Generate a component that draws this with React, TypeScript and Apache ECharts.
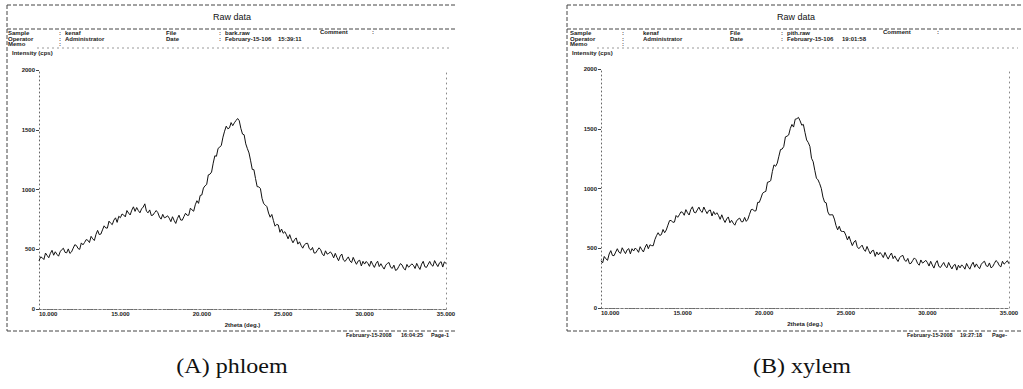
import React, { useEffect, useRef } from "react";
import * as echarts from "echarts";

// 2theta sampling: 10.0 .. 35.0 deg, step 0.1
const startAngle = 10;
const stepAngle = 0.1;

const phloem = [
  404, 436, 429, 414, 468, 448, 429, 466, 491, 450,
  479, 458, 442, 479, 497, 508, 474, 470, 503, 465,
  478, 509, 538, 531, 506, 499, 553, 537, 557, 581,
  575, 556, 608, 587, 573, 624, 658, 623, 627, 662,
  696, 678, 677, 735, 718, 706, 744, 763, 725, 776,
  764, 795, 787, 771, 824, 803, 787, 827, 855, 817,
  849, 824, 805, 838, 853, 880, 818, 805, 829, 782,
  786, 806, 824, 806, 770, 752, 792, 763, 769, 780,
  760, 731, 772, 741, 716, 757, 785, 745, 743, 773,
  801, 784, 785, 844, 829, 818, 872, 906, 884, 950,
  954, 1012, 1031, 1042, 1122, 1128, 1146, 1220, 1282, 1278,
  1344, 1354, 1370, 1438, 1488, 1530, 1508, 1516, 1560, 1534,
  1558, 1577, 1594, 1576, 1511, 1464, 1458, 1382, 1342, 1306,
  1240, 1168, 1166, 1092, 1024, 1022, 1008, 926, 882, 870,
  856, 803, 768, 791, 740, 693, 708, 703, 642, 669,
  634, 647, 621, 587, 622, 583, 554, 580, 595, 543,
  562, 532, 509, 537, 548, 550, 506, 493, 515, 468,
  470, 492, 512, 496, 461, 445, 487, 459, 466, 478,
  460, 428, 466, 432, 404, 442, 460, 410, 398, 418,
  436, 403, 388, 432, 401, 374, 401, 408, 360, 399,
  376, 398, 382, 357, 401, 372, 348, 380, 400, 355,
  379, 354, 334, 367, 382, 389, 349, 340, 367, 323,
  330, 356, 380, 369, 339, 327, 373, 350, 362, 378,
  365, 339, 382, 354, 331, 375, 399, 354, 348, 373,
  398, 369, 358, 405, 378, 355, 386, 396, 351, 394,
  382,
];

const xylem = [
  395, 378, 431, 412, 399, 452, 480, 440, 438, 468,
  496, 467, 457, 504, 478, 455, 486, 497, 453, 496,
  477, 502, 488, 466, 513, 488, 469, 507, 534, 496,
  529, 522, 521, 572, 605, 630, 607, 614, 657, 630,
  653, 693, 731, 733, 717, 719, 774, 759, 780, 805,
  800, 776, 823, 797, 778, 824, 847, 802, 796, 821,
  844, 813, 800, 845, 816, 790, 815, 820, 770, 807,
  782, 797, 774, 742, 780, 743, 716, 745, 762, 713,
  734, 710, 693, 727, 744, 752, 722, 722, 758, 725,
  743, 784, 823, 826, 811, 814, 884, 884, 920, 960,
  970, 976, 1052, 1056, 1066, 1142, 1198, 1186, 1212, 1270,
  1326, 1330, 1352, 1432, 1438, 1448, 1502, 1536, 1514, 1580,
  1584, 1595, 1566, 1530, 1536, 1468, 1406, 1385, 1352, 1253,
  1224, 1152, 1086, 1072, 1040, 1000, 928, 886, 880, 804,
  778, 780, 780, 744, 690, 654, 684, 644, 640, 640,
  610, 570, 600, 558, 522, 552, 566, 512, 496, 512,
  526, 491, 474, 515, 482, 453, 478, 483, 432, 469,
  444, 465, 447, 422, 465, 434, 409, 440, 460, 413,
  436, 410, 389, 421, 435, 440, 400, 390, 415, 371,
  374, 398, 419, 405, 373, 358, 402, 376, 385, 399,
  380, 351, 391, 360, 334, 375, 396, 348, 339, 361,
  381, 350, 337, 381, 352, 327, 356, 365, 317, 358,
  336, 361, 347, 325, 373, 346, 325, 360, 383, 341,
  369, 346, 329, 365, 382, 391, 354, 347, 377, 336,
  346, 372, 397, 385, 356, 344, 391, 367, 380, 396,
  370,
];

const xTicks = [10, 15, 20, 25, 30, 35];
const yTicks = [0, 500, 1000, 1500, 2000];

const panels = [
  {
    sample: "kenaf",
    file: "bark.raw",
    operator: "Administrator",
    date: "February-15-106",
    time: "15:39:11",
    printed: "February-15-2008",
    printedTime: "16:04:25",
    page: "Page-1",
    caption: "(A) phloem",
  },
  {
    sample: "kenaf",
    file: "pith.raw",
    operator: "Administrator",
    date: "February-15-106",
    time: "19:01:58",
    printed: "February-15-2008",
    printedTime: "19:27:18",
    page: "Page-",
    caption: "(B) xylem",
  },
];

const FONT = "Liberation Sans, Arial, sans-serif";
const INK = "#1a1a1a";

function toPairs(values: number[]) {
  return values.map((v, i) => [+(startAngle + i * stepAngle).toFixed(1), v]);
}

function txt(x: number, y: number, text: string, size = 6, extra: any = {}) {
  return {
    type: "text",
    x,
    y,
    silent: true,
    style: {
      text,
      fill: INK,
      font: `bold ${size}px ${FONT}`,
      textVerticalAlign: "middle",
      ...extra,
    },
  };
}

function ln(x1: number, y1: number, x2: number, y2: number, dash: number[] = [3, 2], color = "#555") {
  return {
    type: "line",
    silent: true,
    shape: { x1, y1, x2, y2 },
    style: { stroke: color, lineWidth: 1, lineDash: dash },
  };
}

export default function App() {
  const ref = useRef<HTMLDivElement>(null);

  useEffect(() => {
    document.body.style.margin = "0";
    const chart = echarts.init(ref.current!, null, { renderer: "svg" });

    const grids = [
      { left: 39, top: 70, width: 407, height: 239 },
      { left: 601, top: 69, width: 408, height: 239 },
    ];

    const xAxes: any[] = [];
    const yAxes: any[] = [];
    grids.forEach((_, gi) => {
      xAxes.push({
        type: "value",
        gridIndex: gi,
        min: xTicks[0],
        max: xTicks[xTicks.length - 1],
        interval: 5,
        name: "2theta (deg.)",
        nameLocation: "middle",
        nameGap: 8,
        nameTextStyle: { color: INK, fontSize: 6, fontWeight: "bold", fontFamily: FONT, verticalAlign: "top" },
        axisLine: { lineStyle: { color: "#666", type: [2, 2], width: 1 } },
        axisTick: { show: false },
        splitLine: { show: false },
        axisLabel: {
          color: INK,
          fontSize: 6,
          fontWeight: "bold",
          fontFamily: FONT,
          margin: 2,
          alignMinLabel: "left",
          formatter: (v: number) => v.toFixed(3),
        },
      });
      xAxes.push({
        type: "value",
        gridIndex: gi,
        position: "top",
        min: xTicks[0],
        max: xTicks[xTicks.length - 1],
        axisLine: { lineStyle: { color: "#777", type: [2, 3], width: 1 } },
        axisTick: { show: false },
        axisLabel: { show: false },
        splitLine: { show: false },
      });
      yAxes.push({
        type: "value",
        gridIndex: gi,
        min: yTicks[0],
        max: yTicks[yTicks.length - 1],
        interval: 500,
        axisLine: { show: true, lineStyle: { color: "#666", type: [1, 3], width: 1 } },
        axisTick: { show: true, length: 3, lineStyle: { color: "#444" } },
        splitLine: { show: false },
        axisLabel: {
          color: INK,
          fontSize: 6,
          fontWeight: "bold",
          fontFamily: FONT,
          margin: 4,
          formatter: (v: number) => String(v),
        },
      });
      yAxes.push({
        type: "value",
        gridIndex: gi,
        position: "right",
        min: yTicks[0],
        max: yTicks[yTicks.length - 1],
        axisLine: { show: true, lineStyle: { color: "#888", type: [1, 4], width: 1 } },
        axisTick: { show: false },
        axisLabel: { show: false },
        splitLine: { show: false },
      });
    });

    const series = [phloem, xylem].map((vals, gi) => ({
      type: "line",
      xAxisIndex: gi * 2,
      yAxisIndex: gi * 2,
      data: toPairs(vals),
      showSymbol: false,
      lineStyle: { color: "#111", width: 1 },
      silent: true,
    }));

    const graphics: any[] = [];
    const layout = [
      {
        fl: 7, fr: 455, raw: 232, sample: 8, colon: 59, val: 65, file: 166, colon2: 219, fval: 225, comment: 320,
        colon3: 372, time: 278, inten: 12, footDate: 346, footTime: 401, footPage: 431, cap: 232,
      },
      {
        fl: 567, fr: 1023, raw: 796, sample: 570, colon: 622, val: 643, file: 730, colon2: 781, fval: 787, comment: 883,
        colon3: 937, time: 842, inten: 572, footDate: 907, footTime: 960, footPage: 992, cap: 802,
      },
    ];
    layout.forEach((L, i) => {
      const P = panels[i];
      graphics.push(ln(L.fl, 5, L.fr, 5, [4, 2], "#444"));
      graphics.push(ln(L.fl, 5, L.fl, 331, [4, 2], "#444"));
      graphics.push(ln(L.fl, 29, L.fr, 29, [4, 2], "#444"));
      graphics.push(ln(L.fl + 30, 48, L.fr - 5, 48, [2, 3], "#999"));
      graphics.push(ln(L.fl, 331, L.fr, 331, [4, 2], "#444"));
      graphics.push(txt(L.raw, 17, "Raw data", 9, { textAlign: "center", font: `${9}px ${FONT}`, fill: "#111" }));
      graphics.push(txt(L.sample, 33, "Sample"));
      graphics.push(txt(L.colon, 33, ":"));
      graphics.push(txt(L.val, 33, P.sample));
      graphics.push(txt(L.file, 33, "File"));
      graphics.push(txt(L.colon2, 33, ":"));
      graphics.push(txt(L.fval, 33, P.file));
      graphics.push(txt(L.comment, 32, "Comment"));
      graphics.push(txt(L.colon3, 32, ":"));
      graphics.push(txt(L.sample, 39, "Operator"));
      graphics.push(txt(L.colon, 39, ":"));
      graphics.push(txt(L.val, 39, P.operator));
      graphics.push(txt(L.file, 39, "Date"));
      graphics.push(txt(L.colon2, 39, ":"));
      graphics.push(txt(L.fval, 39, P.date));
      graphics.push(txt(L.time, 39, P.time));
      graphics.push(txt(L.sample, 44, "Memo"));
      graphics.push(txt(L.colon, 44, ":"));
      graphics.push(txt(L.inten, 53, "Intensity (cps)"));
      graphics.push(txt(L.footDate, 335, P.printed, 5.5));
      graphics.push(txt(L.footTime, 335, P.printedTime, 5.5));
      graphics.push(txt(L.footPage, 335, P.page, 5.5));
      graphics.push({
        type: "text",
        x: L.cap,
        y: 366,
        scaleX: 1.2,
        originX: 0,
        originY: 0,
        silent: true,
        style: {
          text: P.caption,
          fill: "#111",
          font: `20px "Liberation Serif", "DejaVu Serif", serif`,
          textAlign: "center",
          textVerticalAlign: "middle",
        },
      });
    });

    chart.setOption({
      animation: false,
      backgroundColor: "#ffffff",
      grid: grids,
      xAxis: xAxes,
      yAxis: yAxes,
      series,
      graphic: graphics,
    });

    return () => chart.dispose();
  }, []);

  return <div ref={ref} style={{ width: 1023, height: 389 }} />;
}
